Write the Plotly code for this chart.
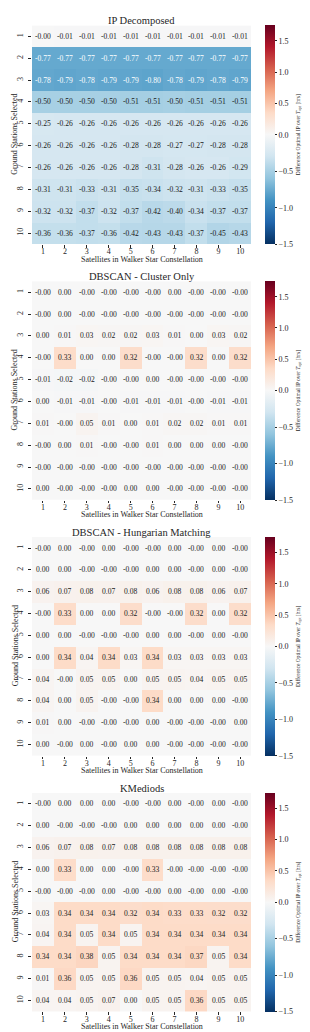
import plotly.graph_objects as go

# ---------------- data ----------------
satellites = ["1", "2", "3", "4", "5", "6", "7", "8", "9", "10"]
ground_stations = ["1", "2", "3", "4", "5", "6", "7", "8", "9", "10"]
panel_titles = ["IP Decomposed", "DBSCAN - Cluster Only",
                "DBSCAN - Hungarian Matching", "KMediods"]

ip_decomposed = [
    [-0.0, -0.01, -0.01, -0.01, -0.01, -0.01, -0.01, -0.01, -0.01, -0.01],
    [-0.77, -0.77, -0.77, -0.77, -0.77, -0.77, -0.77, -0.77, -0.77, -0.77],
    [-0.78, -0.79, -0.78, -0.79, -0.79, -0.80, -0.78, -0.79, -0.78, -0.79],
    [-0.50, -0.50, -0.50, -0.50, -0.51, -0.51, -0.50, -0.51, -0.51, -0.51],
    [-0.25, -0.26, -0.26, -0.26, -0.26, -0.26, -0.26, -0.26, -0.26, -0.26],
    [-0.26, -0.26, -0.26, -0.26, -0.28, -0.28, -0.27, -0.27, -0.28, -0.28],
    [-0.26, -0.26, -0.26, -0.26, -0.28, -0.31, -0.28, -0.26, -0.26, -0.29],
    [-0.31, -0.31, -0.33, -0.31, -0.35, -0.34, -0.32, -0.31, -0.33, -0.35],
    [-0.32, -0.32, -0.37, -0.32, -0.37, -0.42, -0.40, -0.34, -0.37, -0.37],
    [-0.36, -0.36, -0.37, -0.36, -0.42, -0.43, -0.43, -0.37, -0.45, -0.43],
]

dbscan_cluster_only = [
    [-0.0, 0.0, -0.0, -0.0, -0.0, -0.0, 0.0, -0.0, -0.0, -0.0],
    [-0.0, 0.0, -0.0, -0.0, -0.0, -0.0, -0.0, -0.0, -0.0, -0.0],
    [0.0, 0.01, 0.03, 0.02, 0.02, 0.03, 0.01, 0.0, 0.03, 0.02],
    [-0.0, 0.33, 0.0, 0.0, 0.32, -0.0, -0.0, 0.32, 0.0, 0.32],
    [-0.01, -0.02, -0.02, -0.0, -0.0, 0.0, -0.0, -0.0, -0.0, -0.0],
    [0.0, -0.01, -0.01, -0.0, -0.01, -0.01, -0.01, -0.0, -0.01, -0.01],
    [0.01, -0.0, 0.05, 0.01, 0.0, 0.01, 0.02, 0.02, 0.01, 0.01],
    [-0.0, 0.0, 0.01, -0.0, -0.0, 0.01, 0.0, 0.0, 0.0, -0.0],
    [-0.0, -0.0, -0.0, -0.0, -0.0, -0.0, -0.0, -0.0, -0.0, -0.0],
    [0.0, -0.0, -0.0, -0.0, 0.0, 0.0, -0.0, -0.0, -0.0, -0.0],
]

dbscan_hungarian = [
    [-0.0, 0.0, -0.0, 0.0, -0.0, -0.0, 0.0, -0.0, 0.0, -0.0],
    [0.0, 0.0, -0.0, -0.0, -0.0, 0.0, 0.0, -0.0, 0.0, -0.0],
    [0.06, 0.07, 0.08, 0.07, 0.08, 0.06, 0.08, 0.08, 0.06, 0.07],
    [-0.0, 0.33, 0.0, 0.0, 0.32, -0.0, -0.0, 0.32, 0.0, 0.32],
    [0.0, 0.0, -0.0, -0.0, -0.0, 0.0, 0.0, -0.0, 0.0, -0.0],
    [0.0, 0.34, 0.04, 0.34, 0.03, 0.34, 0.03, 0.03, 0.03, 0.03],
    [0.04, -0.0, 0.05, 0.05, 0.0, 0.05, 0.05, 0.04, 0.05, 0.05],
    [0.04, 0.0, 0.05, -0.0, -0.0, 0.34, 0.0, 0.0, 0.0, -0.0],
    [0.01, 0.0, -0.0, -0.0, -0.0, 0.0, -0.0, -0.0, -0.0, 0.0],
    [0.0, -0.0, 0.0, -0.0, 0.0, 0.0, -0.0, -0.0, -0.0, -0.0],
]

kmediods = [
    [-0.0, 0.0, 0.0, 0.0, -0.0, -0.0, 0.0, -0.0, 0.0, -0.0],
    [0.0, -0.0, -0.0, -0.0, 0.0, 0.0, 0.0, 0.0, 0.0, -0.0],
    [0.06, 0.07, 0.08, 0.07, 0.08, 0.08, 0.08, 0.08, 0.08, 0.08],
    [0.0, 0.33, 0.0, 0.0, -0.0, 0.33, -0.0, -0.0, -0.0, -0.0],
    [-0.0, -0.0, -0.0, 0.0, -0.0, -0.0, 0.0, -0.0, 0.0, -0.0],
    [0.03, 0.34, 0.34, 0.34, 0.32, 0.34, 0.33, 0.33, 0.32, 0.32],
    [0.04, 0.34, 0.05, 0.34, 0.05, 0.34, 0.34, 0.34, 0.34, 0.34],
    [0.34, 0.34, 0.38, 0.05, 0.34, 0.34, 0.34, 0.37, 0.05, 0.34],
    [0.01, 0.36, 0.05, 0.05, 0.36, 0.05, 0.05, 0.04, 0.05, 0.05],
    [0.04, 0.04, 0.05, 0.07, 0.0, 0.05, 0.05, 0.36, 0.05, 0.05],
]

panels = [ip_decomposed, dbscan_cluster_only, dbscan_hungarian, kmediods]

cbar_ticks = [-1.5, -1.0, -0.5, 0.0, 0.5, 1.0, 1.5]
cbar_ticktext = ["\u22121.5", "\u22121.0", "\u22120.5", "0.0", "0.5", "1.0", "1.5"]

# ---------------- styling ----------------
W, H = 310, 1032
FONT = "Liberation Serif"
VMIN, VCENTER, VMAX = -1.5, 0.0, 1.75

RDBU_R = [(0.0, (5, 48, 97)), (0.1, (33, 102, 172)), (0.2, (67, 147, 195)),
          (0.3, (146, 197, 222)), (0.4, (209, 229, 240)), (0.5, (247, 247, 247)),
          (0.6, (253, 219, 199)), (0.7, (244, 165, 130)), (0.8, (214, 96, 77)),
          (0.9, (178, 24, 43)), (1.0, (103, 0, 31))]
colorscale = [[p, "rgb(%d,%d,%d)" % c] for p, c in RDBU_R]


def two_slope_norm(v):
    if v < VCENTER:
        return 0.5 * (v - VMIN) / (VCENTER - VMIN)
    return 0.5 + 0.5 * (v - VCENTER) / (VMAX - VCENTER)


def cmap(t):
    t = min(max(t, 0.0), 1.0)
    for (p0, c0), (p1, c1) in zip(RDBU_R[:-1], RDBU_R[1:]):
        if p0 <= t <= p1:
            f = (t - p0) / (p1 - p0)
            return tuple(c0[i] + f * (c1[i] - c0[i]) for i in range(3))
    return RDBU_R[-1][1]


def luminance(rgb):
    out = []
    for c in rgb:
        c = c / 255.0
        out.append(c / 12.92 if c <= 0.03928 else ((c + 0.055) / 1.055) ** 2.4)
    return 0.2126 * out[0] + 0.7152 * out[1] + 0.0722 * out[2]


x_left, x_right = 24.0, 243.3
panel_tops = [17.5, 273.3, 529.1, 784.9]
panel_h = 218.5
cb_left = 257.3

fig = go.Figure()
annotations = []
layout = dict(width=W, height=H, margin=dict(l=0, r=0, t=0, b=0),
              paper_bgcolor="white", plot_bgcolor="white", showlegend=False,
              font=dict(family=FONT, color="#262626"))

for k, (vals, title, top) in enumerate(zip(panels, panel_titles, panel_tops), start=1):
    bottom = top + panel_h
    xa = "x" if k == 1 else "x%d" % k
    ya = "y" if k == 1 else "y%d" % k
    z = [[two_slope_norm(v) for v in row] for row in vals]
    fig.add_trace(go.Heatmap(
        z=z, x=satellites, y=ground_stations, xaxis=xa, yaxis=ya,
        customdata=vals, hovertemplate="%{customdata:.2f}<extra></extra>",
        colorscale=colorscale, zmin=0, zmax=1,
        colorbar=dict(
            x=cb_left / W, xanchor="left", xpad=0, ypad=0,
            y=1 - (top + panel_h / 2) / H, yanchor="middle",
            len=panel_h / H, lenmode="fraction",
            thickness=9.5, thicknessmode="pixels", outlinewidth=0,
            tickvals=[two_slope_norm(t) for t in cbar_ticks], ticktext=cbar_ticktext,
            ticks="outside", ticklen=2.5, tickwidth=0.8, tickcolor="#262626",
            tickfont=dict(family=FONT, size=8, color="#262626"),
            title=dict(text="Difference Optimal IP over <i>T</i><sub>opt</sub> [hrs]",
                       side="right", font=dict(family=FONT, size=5.5, color="#262626")),
        ),
    ))
    axkey_x = "xaxis" if k == 1 else "xaxis%d" % k
    axkey_y = "yaxis" if k == 1 else "yaxis%d" % k
    layout[axkey_x] = dict(domain=[x_left / W, x_right / W], anchor=ya, type="category",
                           showgrid=False, zeroline=False, showline=False,
                           ticks="outside", ticklen=2.5, tickwidth=0.8, tickcolor="#262626",
                           ticklabelstandoff=-3,
                           tickfont=dict(family=FONT, size=8, color="#262626"))
    layout[axkey_y] = dict(domain=[1 - bottom / H, 1 - top / H], anchor=xa, type="category",
                           autorange="reversed", showgrid=False, zeroline=False,
                           showline=False, ticks="outside", ticklen=3, tickwidth=0.8,
                           tickcolor="#262626", tickangle=-90, ticklabelstandoff=2,
                           tickfont=dict(family=FONT, size=8, color="#262626"))
    # cell annotations (category axes: position by category index)
    for i in range(len(ground_stations)):
        for j in range(len(satellites)):
            v = vals[i][j]
            col = "#1a1a1a" if luminance(cmap(two_slope_norm(v))) > 0.408 else "#ffffff"
            annotations.append(dict(x=j, y=i, xref=xa, yref=ya, text="%.2f" % v,
                                    showarrow=False,
                                    font=dict(family=FONT, size=7.6, color=col)))
    # title
    annotations.append(dict(x=(x_left + x_right) / 2 / W, y=1 - (top - 4.7) / H,
                            xref="paper", yref="paper", text=title, showarrow=False,
                            xanchor="center", yanchor="middle",
                            font=dict(family=FONT, size=10.5, color="#262626")))
    # x label
    annotations.append(dict(x=(x_left + x_right) / 2 / W, y=1 - (bottom + 15) / H,
                            xref="paper", yref="paper",
                            text="Satellites in Walker Star Constellation", showarrow=False,
                            xanchor="center", yanchor="middle",
                            font=dict(family=FONT, size=8, color="#262626")))
    # y label
    annotations.append(dict(x=7 / W, y=1 - (top + panel_h / 2) / H,
                            xref="paper", yref="paper", text="Ground Stations Selected",
                            showarrow=False, textangle=-90,
                            xanchor="center", yanchor="middle",
                            font=dict(family=FONT, size=8, color="#262626")))

layout["annotations"] = annotations
fig.update_layout(**layout)
fig.write_html("out.html")
